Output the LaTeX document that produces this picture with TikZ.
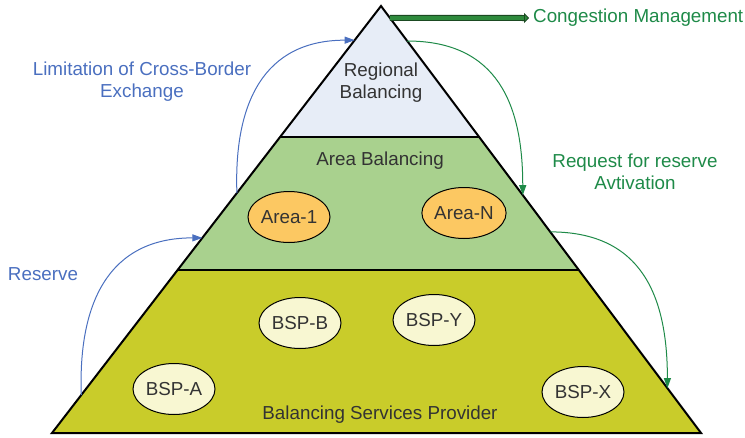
\documentclass[tikz,border=0pt]{standalone}
\usepackage{fontspec}
\setmainfont{Liberation Sans}
\usetikzlibrary{arrows.meta,shapes.geometric,calc}
\definecolor{regfill}{HTML}{E7EDF7}
\definecolor{areafill}{HTML}{A9D18E}
\definecolor{bspfill}{HTML}{C9CC2A}
\definecolor{areaoval}{HTML}{FCC862}
\definecolor{bspoval}{HTML}{F8F7D2}
\definecolor{limblue}{HTML}{4A6FBF}
\definecolor{reqgreen}{HTML}{1E8A48}
\definecolor{conggreen}{HTML}{2E8A3C}
\definecolor{congedge}{HTML}{1B4A22}
\definecolor{txtgray}{HTML}{333333}

\begin{document}
\begin{tikzpicture}[x=1pt, y=-1pt,
  every node/.style={font=\fontsize{18.8}{22}\selectfont, text=txtgray},
  layer/.style={draw=black, line width=2pt},
  oval/.style={ellipse, draw=black, line width=1pt, minimum width=82pt, minimum height=51pt, inner sep=0pt},
  blueflow/.style={limblue, line width=1pt, -{Triangle[length=10pt,width=7pt]}},
  greenflow/.style={reqgreen, line width=1pt, -{Triangle[length=10pt,width=7pt]}}]
\useasboundingbox (0,0) rectangle (745,437);
% pyramid corners and layer borders
\coordinate (apex) at (381,6); \coordinate (bl) at (52,433); \coordinate (br) at (701,433);
\coordinate (tl) at ($(apex)!0.307!(bl)$); \coordinate (tr) at ($(apex)!0.307!(br)$);
\coordinate (ml) at ($(apex)!0.618!(bl)$); \coordinate (mr) at ($(apex)!0.618!(br)$);
\fill[bspfill] (ml) -- (mr) -- (br) -- (bl) -- cycle;
\fill[areafill] (tl) -- (tr) -- (mr) -- (ml) -- cycle;
\fill[regfill] (apex) -- (tr) -- (tl) -- cycle;
\draw[layer] (tl) -- (tr); \draw[layer] (ml) -- (mr);
\draw[layer] (apex) -- (br) -- (bl) -- cycle;
% layer titles
\node[align=center] (reg) at (381,83) {Regional\\Balancing};
\node (areatxt) at (380,161) {Area Balancing};
\node (bsptxt) at (380,415) {Balancing Services Provider};
\node[oval, fill=areaoval] (area1) at (289,217) {Area-1};
\node[oval, fill=areaoval] (areaN) at (464,213) {Area-N};
\foreach \n/\x/\y in {A/174/389, B/300/323, Y/434/320, X/583/392}
  \node[oval, fill=bspoval] (bsp\n) at (\x,\y) {BSP-\n};
% flows on the sides
\coordinate (lim0) at ($(apex)!0.438!(bl)$); \coordinate (lim1) at ($(apex)!0.080!(bl)$);
\coordinate (res0) at ($(apex)!0.911!(bl)$); \coordinate (res1) at ($(apex)!0.543!(bl)$);
\coordinate (req0) at ($(apex)!0.082!(br)$); \coordinate (req1) at ($(apex)!0.443!(br)$);
\coordinate (act0) at ($(apex)!0.529!(br)$); \coordinate (act1) at ($(apex)!0.895!(br)$);
\coordinate (cong0) at ($(apex)!0.028!(br)$);
\draw[blueflow] (lim0) to[out=92,in=180,looseness=1.2] (lim1);
\draw[blueflow] (res0) to[out=92,in=180,looseness=1.2] (res1);
\draw[greenflow] (req0) to[out=0,in=90,looseness=1.2] (req1);
\draw[greenflow] (act0) to[out=0,in=90,looseness=1.2] (act1);
\node[text=limblue, align=center] (limtxt) at (142,82) {Limitation of Cross-Border\\Exchange};
\node[text=limblue] (restxt) at (43,274) {Reserve};
\node[text=reqgreen, align=center] (reqtxt) at (635,172) {Request for reserve\\Avtivation};
\node[text=reqgreen, anchor=west, inner sep=0pt] (cong) at (533,18) {Congestion Management};
\draw[congedge, line width=6pt, shorten >=9pt] (cong0) -- (cong.west);
\draw[conggreen, line width=3.6pt, shorten >=4pt, -{Triangle[length=5pt,width=10pt,line width=0.8pt,color=congedge,fill=conggreen]}] (cong0) -- (cong.west);
\end{tikzpicture}
\end{document}
